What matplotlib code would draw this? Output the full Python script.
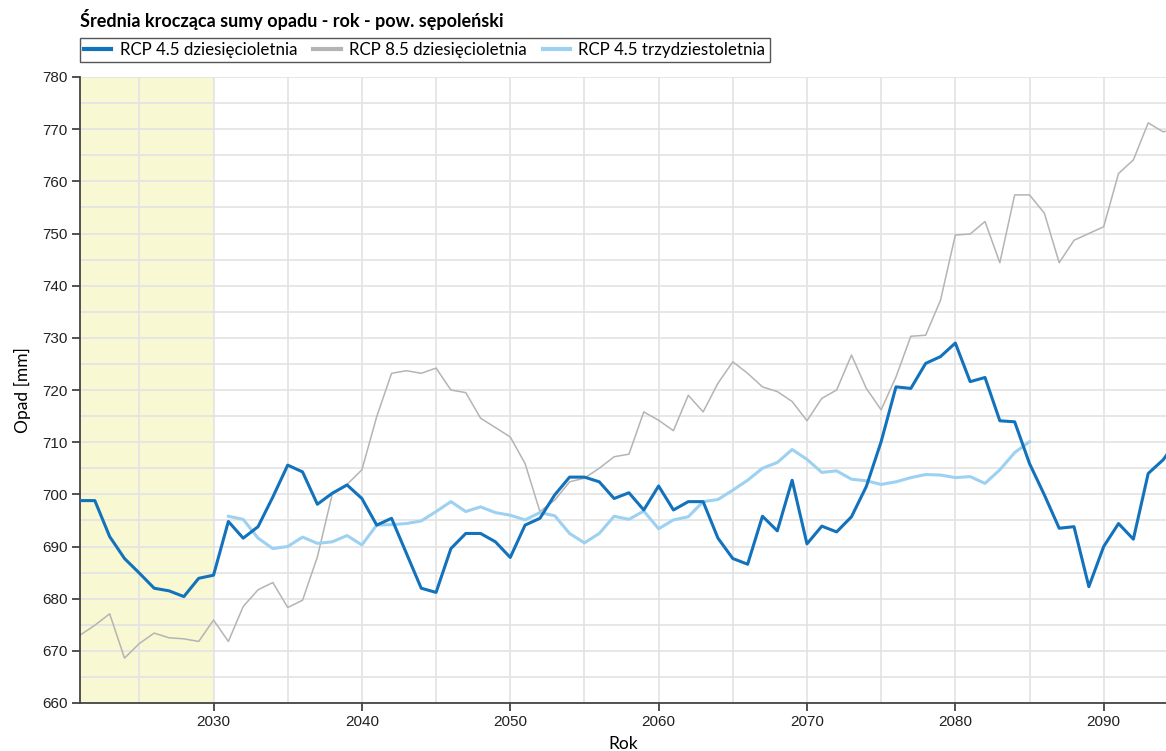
#!/usr/bin/env python3
import matplotlib
matplotlib.use("Agg")
from matplotlib import pyplot as plt
from matplotlib.ticker import MultipleLocator

years = list(range(2021, 2096))

# RCP 4.5, 10-year moving average
rcp45_10 = [698.8, 698.8, 691.9, 687.7, 684.9, 682.0, 681.5, 680.4, 683.9, 684.5,
            694.8, 691.6, 693.8, 699.5, 705.6, 704.3, 698.1, 700.2, 701.8, 699.2,
            694.1, 695.4, 688.7, 682.0, 681.2, 689.6, 692.5, 692.5, 690.9, 687.9,
            694.1, 695.4, 699.9, 703.3, 703.3, 702.4, 699.2, 700.3, 697.0, 701.6,
            697.0, 698.6, 698.6, 691.6, 687.7, 686.6, 695.8, 693.0, 702.7, 690.5,
            693.9, 692.8, 695.7, 701.5, 710.1, 720.6, 720.3, 725.1, 726.4, 729.0,
            721.6, 722.4, 714.1, 713.9, 705.9, 699.9, 693.5, 693.8, 682.3, 690.0,
            694.4, 691.4, 704.0, 706.6, 710.5]

# RCP 8.5, 10-year moving average
rcp85_10 = [673.0, 674.9, 677.1, 668.6, 671.4, 673.4, 672.5, 672.3, 671.8, 675.9,
            671.8, 678.5, 681.7, 683.1, 678.3, 679.7, 688.0, 700.0, 701.9, 704.7,
            714.9, 723.2, 723.7, 723.2, 724.2, 720.0, 719.5, 714.6, 712.8, 711.0,
            705.9, 696.7, 698.9, 702.4, 703.1, 705.0, 707.2, 707.7, 715.8, 714.2,
            712.2, 719.0, 715.8, 721.3, 725.4, 723.2, 720.6, 719.7, 717.8, 714.1,
            718.4, 720.0, 726.7, 720.3, 716.2, 722.5, 730.3, 730.5, 737.2, 749.7,
            749.9, 752.3, 744.4, 757.4, 757.4, 753.9, 744.4, 748.7, 750.0, 751.3,
            761.5, 764.1, 771.2, 769.5, 770.0]

# RCP 4.5, 30-year moving average (2031-2085)
years_30 = list(range(2031, 2086))
rcp45_30 = [695.8, 695.2, 691.6, 689.6, 690.0, 691.8, 690.6, 690.9, 692.1, 690.3,
            694.1, 694.2, 694.4, 694.9, 696.7, 698.6, 696.7, 697.6, 696.5, 696.0,
            695.1, 696.5, 695.9, 692.5, 690.7, 692.5, 695.8, 695.2, 696.8, 693.4,
            695.1, 695.7, 698.6, 699.0, 700.8, 702.7, 705.0, 706.1, 708.6, 706.7,
            704.2, 704.5, 702.9, 702.6, 701.9, 702.4, 703.2, 703.8, 703.7, 703.2,
            703.4, 702.1, 704.7, 708.0, 710.1]

ref_period = (2021, 2030)

# tick labels use the narrow sans, everything else names its family
plt.rcParams['font.family'] = ['Liberation Sans Narrow', 'Liberation Sans', 'DejaVu Sans']
ui_font = ["Lato", "DejaVu Sans"]

fig = plt.figure(figsize=(11.66, 7.51), dpi=100)
ax = fig.add_axes([80 / 1166, 48 / 751, 1086 / 1166, 626 / 751])

# reference period background
ax.axvspan(ref_period[0], ref_period[1], color='#f8f8d2', zorder=0, lw=0)

l1, = ax.plot(years, rcp45_10, color='#1272bb', lw=2.2, zorder=4,
              solid_joinstyle='round', label='RCP 4.5 dziesięcioletnia')
l2, = ax.plot(years, rcp85_10, color='#b4b4b4', lw=1.1, zorder=2,
              solid_joinstyle='round', label='RCP 8.5 dziesięcioletnia')
l3, = ax.plot(years_30, rcp45_30, color='#9dd1f1', lw=2.2, zorder=3,
              solid_joinstyle='round', label='RCP 4.5 trzydziestoletnia')

ax.set_xlim(2021, 2094.2)
ax.set_ylim(660, 780)

ax.xaxis.set_major_locator(MultipleLocator(10))
ax.xaxis.set_minor_locator(MultipleLocator(5))
ax.yaxis.set_major_locator(MultipleLocator(10))
ax.yaxis.set_minor_locator(MultipleLocator(5))
ax.grid(True, which='both', color='#e3e3e3', lw=1.2, zorder=1)
ax.set_axisbelow(True)

for side in ['top', 'right']:
    ax.spines[side].set_visible(False)
for side in ['left', 'bottom']:
    ax.spines[side].set_color('#444444')
    ax.spines[side].set_linewidth(1.3)

ax.tick_params(which='major', length=6, width=1.2, color='#333333',
               labelsize=11, labelcolor='#222222', pad=3)
ax.tick_params(which='minor', length=0)

ax.set_xlabel('Rok', family=ui_font, fontsize=12.5, labelpad=5)
ax.set_ylabel('Opad [mm]', family=ui_font, fontsize=12.5, labelpad=8)

fig.text(80 / 1166, 1 - 20 / 751, 'Średnia krocząca sumy opadu - rok - pow. sępoleński',
         family=ui_font, fontsize=13, fontweight='bold', va='center', ha='left')

leg = fig.legend(handles=[l1, l2, l3], loc='upper left', ncol=3,
                 bbox_to_anchor=(80 / 1166, 1 - 38 / 751), borderaxespad=0,
                 frameon=True, fancybox=False, edgecolor='#555555', framealpha=1,
                 prop={'family': ui_font, 'size': 12.2}, handlelength=1.6,
                 handletextpad=0.5, columnspacing=0.95, borderpad=0.25)
leg.get_frame().set_linewidth(1.0)
for h in leg.get_lines():
    h.set_linewidth(3)

fig.savefig('out.png', dpi=100)
